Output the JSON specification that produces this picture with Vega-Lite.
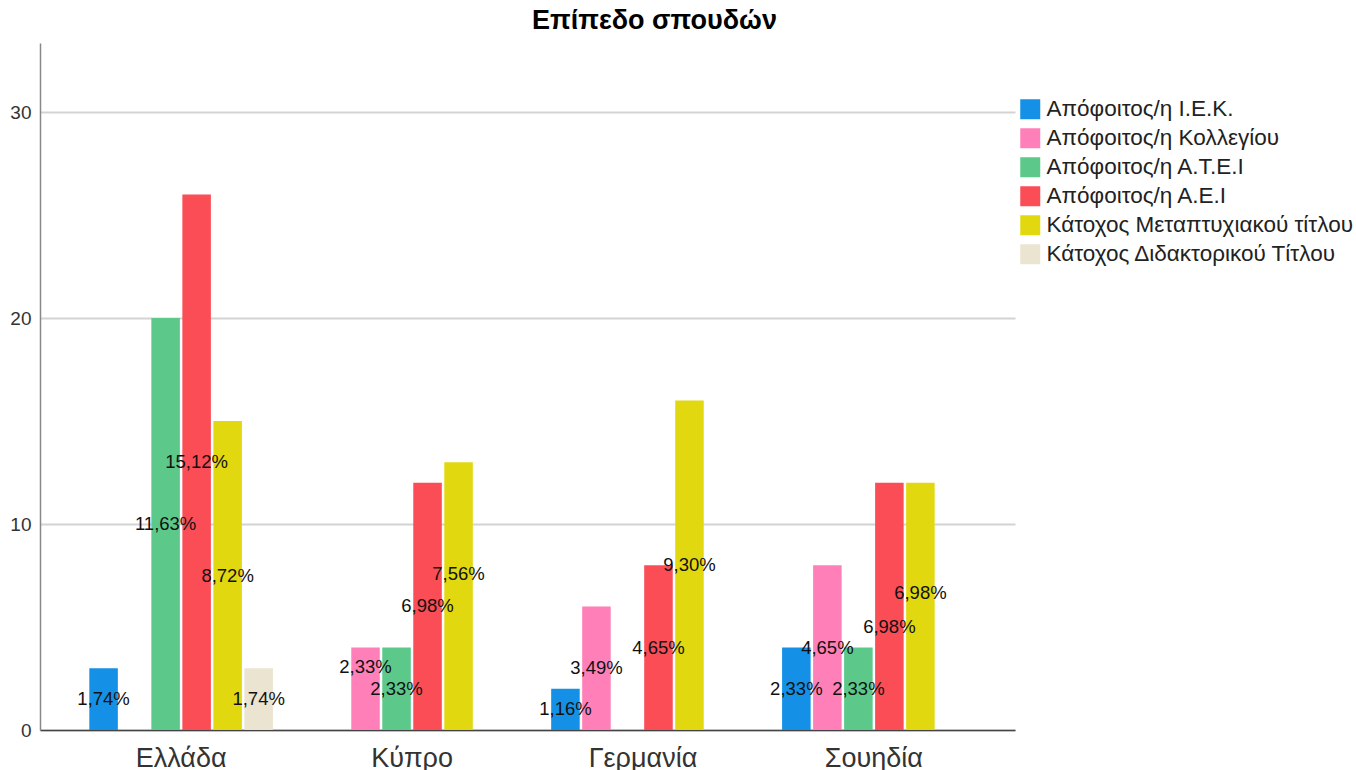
{
  "$schema": "https://vega.github.io/schema/vega-lite/v6.json",
  "width": 975,
  "height": 687,
  "autosize": "none",
  "padding": {"left": 40, "top": 43, "right": 341, "bottom": 40},
  "background": "white",
  "config": {"font": "Liberation Sans", "view": {"stroke": null}},
  "title": {"text": "Επίπεδο σπουδών", "fontSize": 27, "font": "Liberation Sans", "fontWeight": "bold", "color": "#000000", "anchor": "middle", "dx": 127, "offset": 8, "frame": "group"},
  "data": {"values": [
    {"country": "Ελλάδα", "level": "Απόφοιτος/η Ι.Ε.Κ.", "count": 3, "label": "1,74%"},
    {"country": "Ελλάδα", "level": "Απόφοιτος/η Α.Τ.Ε.Ι", "count": 20, "label": "11,63%"},
    {"country": "Ελλάδα", "level": "Απόφοιτος/η Α.Ε.Ι", "count": 26, "label": "15,12%"},
    {"country": "Ελλάδα", "level": "Κάτοχος Μεταπτυχιακού τίτλου", "count": 15, "label": "8,72%"},
    {"country": "Ελλάδα", "level": "Κάτοχος Διδακτορικού Τίτλου", "count": 3, "label": "1,74%"},
    {"country": "Κύπρο", "level": "Απόφοιτος/η Κολλεγίου", "count": 4, "label": "2,33%"},
    {"country": "Κύπρο", "level": "Απόφοιτος/η Α.Τ.Ε.Ι", "count": 4, "label": "2,33%"},
    {"country": "Κύπρο", "level": "Απόφοιτος/η Α.Ε.Ι", "count": 12, "label": "6,98%"},
    {"country": "Κύπρο", "level": "Κάτοχος Μεταπτυχιακού τίτλου", "count": 13, "label": "7,56%"},
    {"country": "Γερμανία", "level": "Απόφοιτος/η Ι.Ε.Κ.", "count": 2, "label": "1,16%"},
    {"country": "Γερμανία", "level": "Απόφοιτος/η Κολλεγίου", "count": 6, "label": "3,49%"},
    {"country": "Γερμανία", "level": "Απόφοιτος/η Α.Ε.Ι", "count": 8, "label": "4,65%"},
    {"country": "Γερμανία", "level": "Κάτοχος Μεταπτυχιακού τίτλου", "count": 16, "label": "9,30%"},
    {"country": "Σουηδία", "level": "Απόφοιτος/η Ι.Ε.Κ.", "count": 4, "label": "2,33%"},
    {"country": "Σουηδία", "level": "Απόφοιτος/η Κολλεγίου", "count": 8, "label": "4,65%"},
    {"country": "Σουηδία", "level": "Απόφοιτος/η Α.Τ.Ε.Ι", "count": 4, "label": "2,33%"},
    {"country": "Σουηδία", "level": "Απόφοιτος/η Α.Ε.Ι", "count": 12, "label": "6,98%"},
    {"country": "Σουηδία", "level": "Κάτοχος Μεταπτυχιακού τίτλου", "count": 12, "label": "6,98%"}
  ]},
  "encoding": {
    "x": {
      "field": "country", "type": "nominal",
      "sort": ["Ελλάδα", "Κύπρο", "Γερμανία", "Σουηδία"],
      "scale": {"paddingInner": 0.205, "paddingOuter": 0.2136},
      "axis": {"title": null, "labelAngle": 0, "ticks": false, "labelFontSize": 27, "labelPadding": 15, "labelColor": "#333333", "domainColor": "#444444", "domainWidth": 1.5, "grid": false}
    },
    "xOffset": {
      "field": "level", "type": "nominal",
      "scale": {"domain": ["Απόφοιτος/η Ι.Ε.Κ.", "Απόφοιτος/η Κολλεγίου", "Απόφοιτος/η Α.Τ.Ε.Ι", "Απόφοιτος/η Α.Ε.Ι", "Κάτοχος Μεταπτυχιακού τίτλου", "Κάτοχος Διδακτορικού Τίτλου"], "paddingInner": 0.08, "paddingOuter": 0}
    }
  },
  "layer": [
    {
      "mark": {"type": "bar"},
      "encoding": {
        "y": {
          "field": "count", "type": "quantitative",
          "scale": {"domain": [0, 33.35], "nice": false, "zero": true},
          "axis": {"title": null, "values": [0, 10, 20, 30], "grid": true, "gridColor": "#d3d3d3", "gridWidth": 2, "ticks": false, "domainColor": "#888888", "domainWidth": 1.5, "labelFontSize": 19, "labelPadding": 9, "labelColor": "#333333"}
        },
        "color": {
          "field": "level", "type": "nominal",
          "scale": {
            "domain": ["Απόφοιτος/η Ι.Ε.Κ.", "Απόφοιτος/η Κολλεγίου", "Απόφοιτος/η Α.Τ.Ε.Ι", "Απόφοιτος/η Α.Ε.Ι", "Κάτοχος Μεταπτυχιακού τίτλου", "Κάτοχος Διδακτορικού Τίτλου"],
            "range": ["#1491e6", "#ff80b8", "#5cc98a", "#fa4d56", "#e2d810", "#ebe4d0"]
          },
          "legend": {"title": null, "orient": "none", "legendX": 979, "legendY": 55, "symbolType": "square", "symbolSize": 400, "symbolStrokeWidth": 0, "symbolOpacity": 1, "labelFontSize": 22.5, "labelColor": "#222222", "labelOffset": 5, "rowPadding": 6, "labelLimit": 400}
        }
      }
    },
    {
      "transform": [
        {"calculate": "datum.count / 2", "as": "mid"},
        {"filter": "!((datum.country == 'Κύπρο' && (datum.level == 'Απόφοιτος/η Κολλεγίου' || datum.level == 'Κάτοχος Μεταπτυχιακού τίτλου')) || (datum.country == 'Σουηδία' && (datum.level == 'Απόφοιτος/η Α.Ε.Ι' || datum.level == 'Κάτοχος Μεταπτυχιακού τίτλου')))"}
      ],
      "mark": {"type": "text", "fontSize": 18.5, "color": "#111111", "baseline": "middle", "align": "center"},
      "encoding": {"y": {"field": "mid", "type": "quantitative"}, "text": {"field": "label", "type": "nominal"}}
    },
    {
      "transform": [
        {"calculate": "datum.count / 2", "as": "mid"},
        {"filter": "datum.country == 'Κύπρο' && (datum.level == 'Απόφοιτος/η Κολλεγίου' || datum.level == 'Κάτοχος Μεταπτυχιακού τίτλου')"}
      ],
      "mark": {"type": "text", "fontSize": 18.5, "color": "#111111", "baseline": "middle", "align": "center", "dy": -22},
      "encoding": {"y": {"field": "mid", "type": "quantitative"}, "text": {"field": "label", "type": "nominal"}}
    },
    {
      "transform": [
        {"calculate": "datum.count / 2", "as": "mid"},
        {"filter": "datum.country == 'Σουηδία' && datum.level == 'Απόφοιτος/η Α.Ε.Ι'"}
      ],
      "mark": {"type": "text", "fontSize": 18.5, "color": "#111111", "baseline": "middle", "align": "center", "dy": 21},
      "encoding": {"y": {"field": "mid", "type": "quantitative"}, "text": {"field": "label", "type": "nominal"}}
    },
    {
      "transform": [
        {"calculate": "datum.count / 2", "as": "mid"},
        {"filter": "datum.country == 'Σουηδία' && datum.level == 'Κάτοχος Μεταπτυχιακού τίτλου'"}
      ],
      "mark": {"type": "text", "fontSize": 18.5, "color": "#111111", "baseline": "middle", "align": "center", "dy": -13},
      "encoding": {"y": {"field": "mid", "type": "quantitative"}, "text": {"field": "label", "type": "nominal"}}
    }
  ]
}
